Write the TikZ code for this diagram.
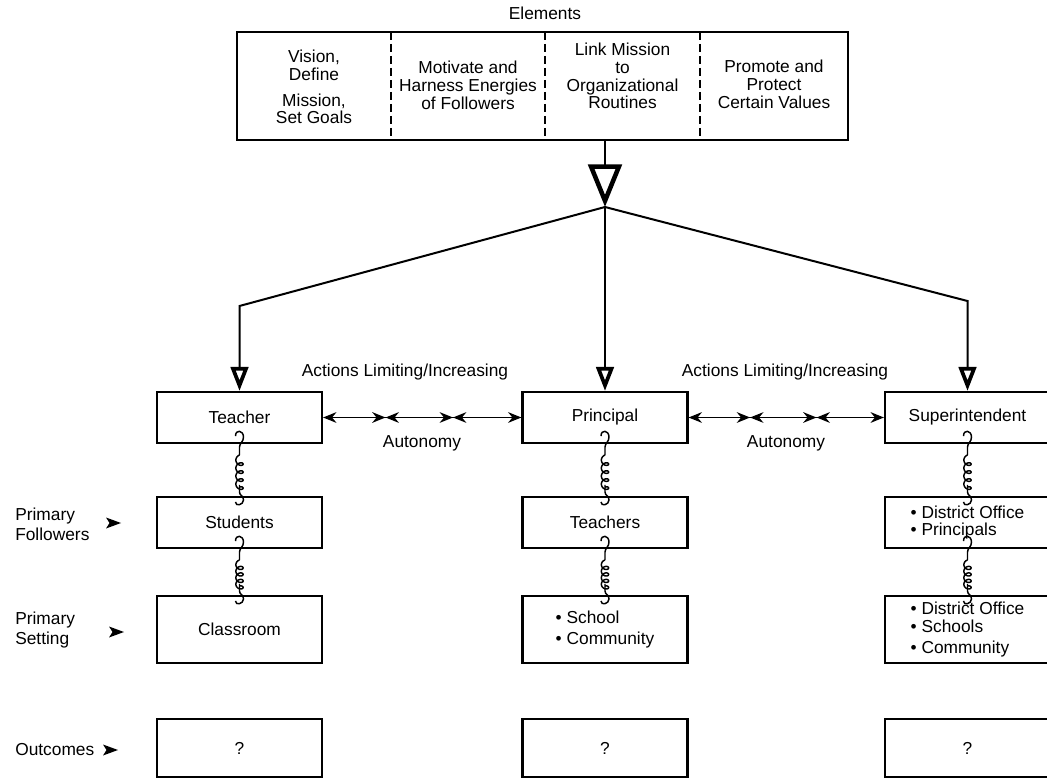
\documentclass[tikz,border=0pt]{standalone}
\usepackage{fontspec}
\setmainfont{Liberation Sans}
\usetikzlibrary{arrows.meta,decorations.markings}

% vertical spring linking two stacked boxes: top hook, four loops, bottom hook;
% #3 is the run of the loops (drawing units)
\newcommand\coilbetween[3]{%
  \draw[coilline] ([shift={(-4,-8)}]#1.south) .. controls +(0,-7) and +(0,-7) .. ([shift={(4,-7)}]#1.south)
     .. controls +(0,5) and +(0,-4) .. ([shift={(0,3)}]#1.south) -- ([shift={(0,11)}]#1.south);
  \begin{scope}[shift={([shift={(0,11)}]#1.south)}]
    \draw[coilline] plot[domain=90:1530, samples=170, smooth]
      ({3.6*cos(\x)}, {#3/4*(\x-90)/360 - 3*sin(\x) + 3});
  \end{scope}
  \draw[coilline] ([shift={(0,-11)}]#2.north) -- ([shift={(0,-4)}]#2.north)
     .. controls +(0,4) and +(0,-5) .. ([shift={(4,4)}]#2.north)
     .. controls +(0,5) and +(0,5) .. ([shift={(-4,6)}]#2.north);
}

\begin{document}
\begin{tikzpicture}[x=0.75pt,y=-0.75pt,
  every node/.style={font=\fontsize{13}{13.4}\selectfont, inner sep=0pt},
  rowbox/.style={draw, line width=1.6pt, rectangle, minimum width=123.75pt, align=center},
  hA/.style={minimum height=38.25pt},
  hC/.style={minimum height=50.25pt},
  hD/.style={minimum height=43.5pt},
  divider/.style={line width=1.3pt, dash pattern=on 6pt off 3pt},
  coilline/.style={line width=1.1pt},
  stemline/.style={line width=1.5pt, -{Triangle[open, length=32pt, width=25pt, line width=3.4pt]}},
  branch/.style={line width=1.5pt, -{Triangle[open, length=18pt, width=13pt, line width=2.8pt]}},
  autolink/.style={line width=1.3pt, {Stealth[length=10pt,width=8pt]}-{Stealth[length=10pt,width=8pt]},
    postaction={decorate},
    decoration={markings,
      mark=at position 0.315 with {\arrow{Stealth[length=10pt,width=8pt]}},
      mark=at position 0.315 with {\arrowreversed{Stealth[length=10pt,width=8pt]}},
      mark=at position 0.655 with {\arrow{Stealth[length=10pt,width=8pt]}},
      mark=at position 0.655 with {\arrowreversed{Stealth[length=10pt,width=8pt]}}}},
  pointer/.pic={\fill (0,-5.5) -- (15,0) -- (0,5.5) -- (3.5,0) -- cycle;}
]
\fill[white] (0,0) rectangle (1047,784);
\useasboundingbox (0,0) rectangle (1047,784);

% elements panel
\node (eltitle) at (545,13) {Elements};
\node[draw, line width=1.6pt, minimum width=458.25pt, minimum height=81pt] (elbox) at (542.5,86) {};
\draw[divider] (391,32) -- (391,140);
\draw[divider] (545,32) -- (545,140);
\draw[divider] (700,32) -- (700,140);
\node[align=center] (cellA) at (314,87) {Vision,\\Define\\[6pt]Mission,\\Set Goals};
\node[align=center] (cellB) at (468,85) {Motivate and\\Harness Energies\\of Followers};
\node[align=center] (cellC) at (622.5,76) {Link Mission\\to\\Organizational\\Routines};
\node[align=center] (cellD) at (774,84) {Promote and\\Protect\\Certain Values};

% distribution to the three roles
\coordinate (hub) at (605,207);
\coordinate (bendL) at (239.5,306);
\coordinate (bendR) at (967.5,301);
\draw[stemline] (elbox.south -| hub) -- (hub);

% role rows
\node[rowbox, hA] (teacher) at (239.5,417.5) {Teacher};
\node[rowbox, hA] (principal) at (605,417.5) {Principal};
\node[rowbox, hA] (superint) at (967.5,417.5) {Superintendent};

\node[rowbox, hA] (students) at (239.5,522.5) {Students};
\node[rowbox, hA] (teachers) at (605,522.5) {Teachers};
\node[rowbox, hA, align=left] (distfol) at (967.5,522.5) {• District Office\\• Principals};

\node[rowbox, hC] (classroom) at (239.5,629.5) {Classroom};
\node[rowbox, hC, align=left] (schoolset) at (605,629.5) {• School\\[3pt]• Community};
\node[rowbox, hC, align=left] (distset) at (967.5,629.5) {• District Office\\• Schools\\[2pt]• Community};

\node[rowbox, hD] (outA) at (239.5,748) {?};
\node[rowbox, hD] (outB) at (605,748) {?};
\node[rowbox, hD] (outC) at (967.5,748) {?};

\draw[branch] (hub) -- (bendL) -- (teacher.north);
\draw[branch] (hub) -- (principal.north);
\draw[branch] (hub) -- (bendR) -- (superint.north);

% autonomy links
\node (actL) at (405,372) {Actions Limiting/Increasing};
\node (actR) at (785,372) {Actions Limiting/Increasing};
\draw[autolink] (teacher.east) -- (principal.west);
\draw[autolink] (principal.east) -- (superint.west);
\node (autoL) at (422,443) {Autonomy};
\node (autoR) at (786,443) {Autonomy};

% springs
\coilbetween{teacher}{students}{32}
\coilbetween{students}{classroom}{26}
\coilbetween{principal}{teachers}{32}
\coilbetween{teachers}{schoolset}{26}
\coilbetween{superint}{distfol}{32}
\coilbetween{distfol}{distset}{26}

% row labels
\node[anchor=west, align=left, font=\fontsize{13}{15}\selectfont] (lblfol) at (15,524) {Primary\\Followers};
\node[anchor=west, align=left, font=\fontsize{13}{15}\selectfont] (lblset) at (15,630) {Primary\\Setting};
\node[anchor=west] (lblout) at (15,750) {Outcomes};
\pic at (106,523) {pointer};
\pic at (109,632) {pointer};
\pic at (103,750) {pointer};
\end{tikzpicture}
\end{document}
